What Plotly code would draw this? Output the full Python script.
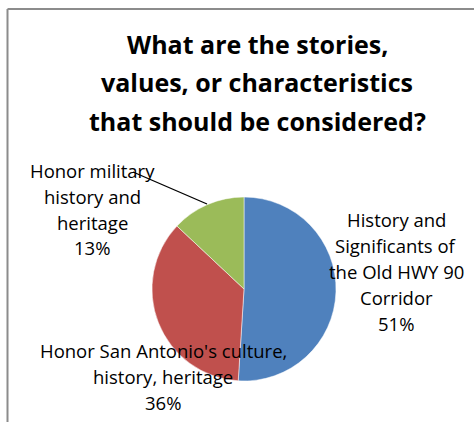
import plotly.graph_objects as go

categories = ["History and<br>Significants of<br>the Old HWY 90<br>Corridor",
              "Honor San Antonio's culture,<br>history, heritage",
              "Honor military<br>history and<br>heritage"]
values = [51, 36, 13]
colors = ["#4F81BD", "#C0504D", "#9BBB59"]
title_lines = ["What are the stories,", "values, or characteristics", "that should be considered?"]

W, H = 474, 422
def px(x): return x / W
def py(y): return 1 - y / H

cx, cy, r = 244, 289, 92
fig = go.Figure(go.Pie(
    values=values, labels=[c.replace("<br>", " ") for c in categories],
    marker=dict(colors=colors, line=dict(color="white", width=0.5)),
    sort=False, direction="clockwise", rotation=0,
    textinfo="none", hoverinfo="label+percent", showlegend=False,
    domain=dict(x=[px(cx - r), px(cx + r)], y=[py(cy + r), py(cy - r)]),
))

annotations = []
for i, t in enumerate(title_lines):
    annotations.append(dict(text="<b>" + t + "</b>", x=px(257), y=py(44 + i * 38.5),
                            xref="paper", yref="paper", showarrow=False,
                            xanchor="center", yanchor="middle",
                            font=dict(family="Open Sans", size=25, color="black")))

total = sum(values)
label_pos = [(396, 219), (163, 350), (92, 170)]
for cat, v, (lx, ly) in zip(categories, values, label_pos):
    lines = cat.split("<br>") + [f"{round(100 * v / total)}%"]
    for j, ln in enumerate(lines):
        annotations.append(dict(text=ln, x=px(lx), y=py(ly + j * 26),
                                xref="paper", yref="paper", showarrow=False,
                                xanchor="center", yanchor="middle",
                                font=dict(family="Open Sans", size=18.5, color="black")))

shapes = [
    dict(type="line", xref="paper", yref="paper", x0=px(133), y0=py(172), x1=px(207), y1=py(204),
         line=dict(color="black", width=1.3)),
    dict(type="line", xref="paper", yref="paper", x0=px(7.5), y0=py(9), x1=px(7.5), y1=0,
         line=dict(color="#8c8c8c", width=2)),
    dict(type="line", xref="paper", yref="paper", x0=px(7.5), y0=py(9), x1=1, y1=py(9),
         line=dict(color="#8c8c8c", width=2)),
]

fig.update_layout(width=W, height=H, margin=dict(l=0, r=0, t=0, b=0),
                  paper_bgcolor="white", plot_bgcolor="white",
                  annotations=annotations, shapes=shapes)
fig.write_html("out.html", config={"displayModeBar": False},
               post_script="document.body.style.margin='0';document.body.style.overflow='hidden';")
